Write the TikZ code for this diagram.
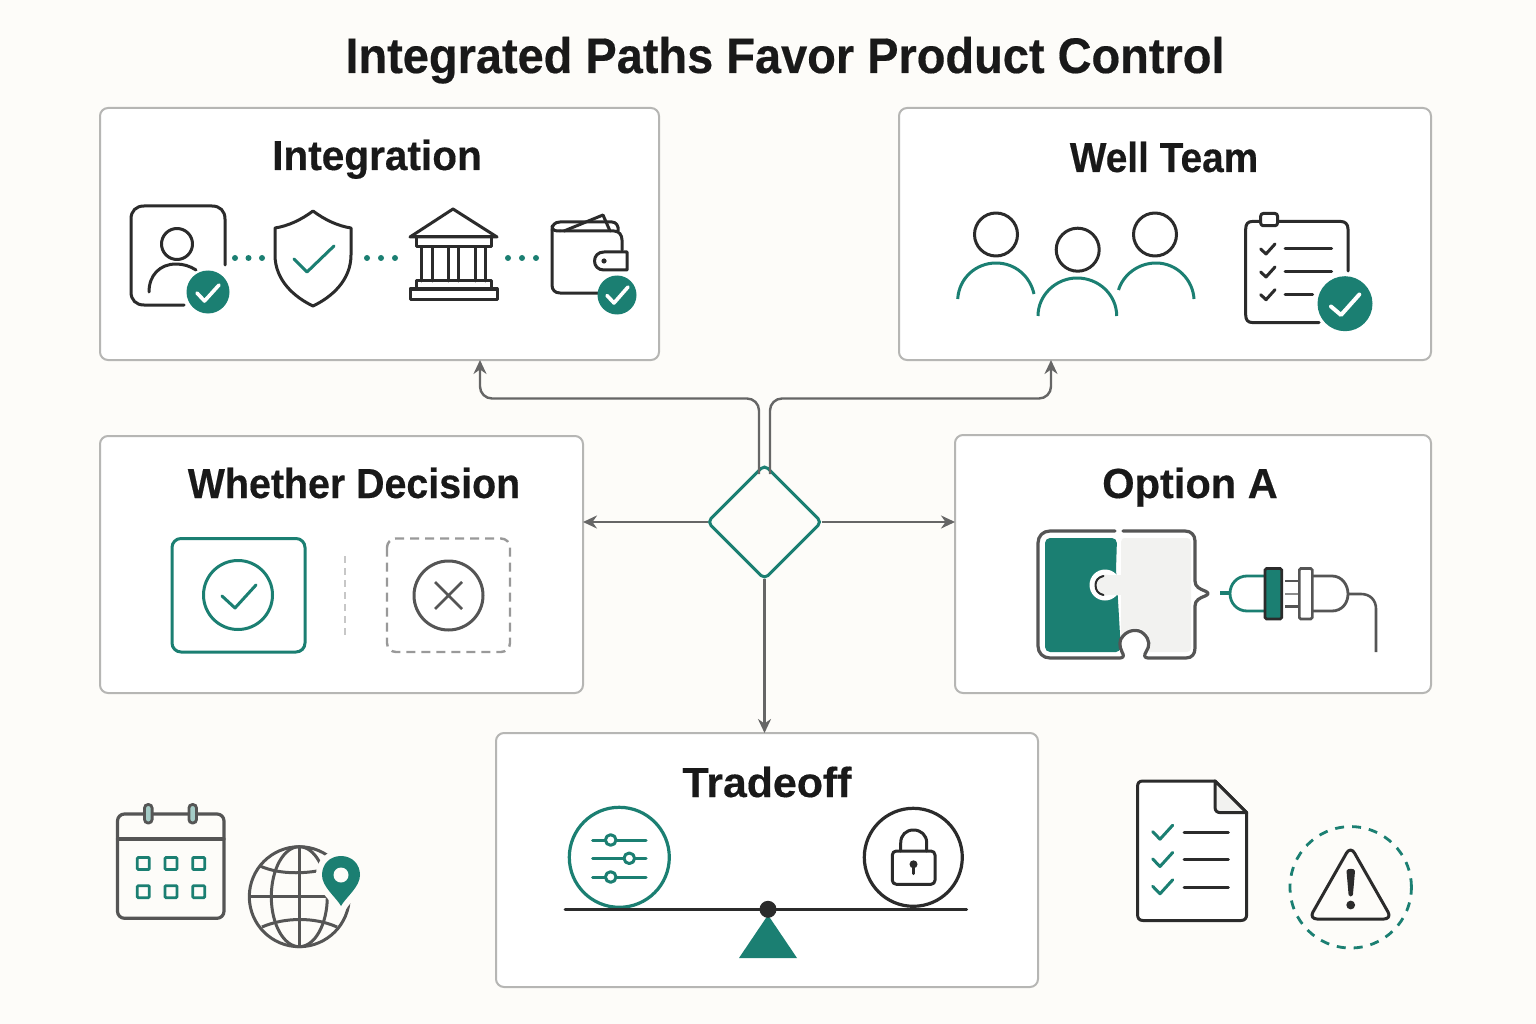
\documentclass[tikz,border=0pt]{standalone}
\usepackage{fontspec}
\usepackage{graphicx}
\setmainfont{Liberation Sans}
\newfontfamily\headfont{Liberation Sans}[BoldFeatures={FakeBold=0.35}]
\usetikzlibrary{arrows.meta,shapes.geometric}
\definecolor{pagebg}{HTML}{FDFCF9}
\definecolor{brandteal}{HTML}{1B7F72}
\definecolor{ink}{HTML}{2B2B2B}
\definecolor{midgray}{HTML}{555555}
\definecolor{conngray}{HTML}{666666}
\definecolor{edgegray}{HTML}{B6B6B4}
\definecolor{softgray}{HTML}{F2F2F0}
\tikzset{
  panel/.style={draw=edgegray,line width=2pt,fill=white,rounded corners=8pt,inner sep=0pt,outer sep=0pt},
  paneltitle/.style={anchor=base,inner sep=0pt,text=black!90,font=\headfont\bfseries\fontsize{42pt}{46pt}\selectfont},
  conn/.style={draw=conngray,line width=2.4pt,-{Stealth[length=14pt,width=13pt]},rounded corners=12pt},
  inkline/.style={draw=ink,line width=3pt,line cap=round,line join=round},
  grayline/.style={draw=midgray,line width=3.2pt,line cap=round,line join=round},
  tealline/.style={draw=brandteal,line width=3pt,line cap=round,line join=round},
  whitecheck/.style={draw=white,line width=3.6pt,line cap=round,line join=round},
}
\begin{document}
\begin{tikzpicture}[x=1pt,y=-1pt]
\fill[pagebg] (0,0) rectangle (1536,1024);
\useasboundingbox (0,0) rectangle (1536,1024);

% title
\node[anchor=base,inner sep=0pt,text=black!90,font=\headfont\bfseries\fontsize{50pt}{54pt}\selectfont] (title) at (785,73) {\scalebox{.939}[1]{Integrated Paths Favor Product Control}};

% panels
\node[panel,minimum width=559pt,minimum height=252pt] (intg) at (379.5,234) {};
\node[panel,minimum width=532pt,minimum height=252pt] (well) at (1165,234) {};
\node[panel,minimum width=483pt,minimum height=257pt] (whet) at (341.5,564.5) {};
\node[panel,minimum width=476pt,minimum height=258pt] (opta) at (1193,564) {};
\node[panel,minimum width=542pt,minimum height=254pt] (trade) at (767,860) {};

\node[paneltitle] (tintg) at (377,170) {\scalebox{.966}[1]{Integration}};
\node[paneltitle] (twell) at (1164,172) {\scalebox{.924}[1]{Well Team}};
\node[paneltitle] (twhet) at (354,498) {\scalebox{.937}[1]{Whether Decision}};
\node[paneltitle] (topta) at (1190,498) {\scalebox{.99}[1]{Option A}};
\node[paneltitle] (ttrade) at (767,797) {\scalebox{1.02}[1]{Tradeoff}};

% decision diamond and connectors
\node[diamond,aspect=1,draw=brandteal,line width=3pt,rounded corners=5pt,minimum width=114pt,minimum height=114pt,inner sep=0pt,outer sep=0pt] (dec) at (764.5,522) {};
\coordinate (busy) at (764.5,398.5);
\coordinate (ji) at (480,360);
\coordinate (jw) at (1051,360);
\draw[conn] ([shift={(-5.5pt,-9pt)}]dec.north) -- ([xshift=-5.5pt]dec.north |- busy) -- (ji |- busy) -- (ji);
\draw[conn] ([shift={(5.5pt,-9pt)}]dec.north) -- ([xshift=5.5pt]dec.north |- busy) -- (jw |- busy) -- (jw);
\draw[conn] (dec.west) -- (dec.west -| whet.east);
\draw[conn] (dec.east) -- (dec.east -| opta.west);
\draw[conn] (dec.south) -- (dec.south |- trade.north);

% ---- Integration icons
\draw[inkline] (225,265) -- (225,219) .. controls (225,211) and (220,206) .. (212,206) -- (144,206) .. controls (136,206) and (131,211) .. (131,219) -- (131,292) .. controls (131,300) and (136,305) .. (144,305) -- (184,305);
\draw[inkline] (177,244) circle[radius=15.5pt];
\draw[inkline] (149,292) .. controls (149,275) and (160,264) .. (176,264) .. controls (183,264) and (190,266) .. (196,270);
\fill[brandteal] (208,292) circle[radius=21.5pt];
\draw[whitecheck] (197,293) -- (204.5,301) -- (219,285);
\foreach \xx in {235,248.5,262,367,381,395,508,522,536}{\fill[brandteal] (\xx,258) circle[radius=3pt];}
% shield
\draw[inkline] (313,211) .. controls (325,220) and (338,226) .. (351,228) -- (351,255) .. controls (351,280) and (332,297) .. (313,306) .. controls (294,297) and (275,280) .. (275,255) -- (275,228) .. controls (288,226) and (301,220) .. (313,211) -- cycle;
\draw[tealline] (294,259) -- (307,272) -- (334,246);
% bank
\draw[inkline] (453,209) -- (497,237) -- (410,237) -- cycle;
\draw[inkline] (416,237) rectangle (491,247);
\foreach \xx in {421,432,448,458,475,485}{\draw[inkline] (\xx,247) -- (\xx,281);}
\draw[inkline] (416,281) rectangle (491,289);
\draw[inkline] (410,289) rectangle (497,299);
% wallet
\draw[inkline] (552,230) .. controls (552,225) and (555,222) .. (560,222) -- (612,222) .. controls (616,222) and (619,226) .. (618,231);
\draw[inkline] (564,231) -- (603,215) -- (610,231);
\draw[inkline] (560,231) -- (614,231) .. controls (619,231) and (622,235) .. (622,240) -- (622,250);
\draw[inkline] (552,230) -- (552,285) .. controls (552,290) and (555,293) .. (560,293) -- (600,293);
\draw[inkline] (560,231) .. controls (556,231) and (552,231) .. (552,226);
\draw[inkline,fill=white] (627,252) -- (604,252) .. controls (598,252) and (594.5,256) .. (594.5,261) .. controls (594.5,266) and (598,270) .. (604,270) -- (627,270) -- cycle;
\fill[ink] (604,261) circle[radius=2.6pt];
\fill[brandteal] (617,295) circle[radius=19.5pt];
\draw[whitecheck] (607,295.5) -- (614,303) -- (628,287);

% ---- Well Team icons
\draw[inkline] (996,234.5) circle[radius=21.5pt];
\draw[inkline] (1077.7,249.7) circle[radius=21.5pt];
\draw[inkline] (1155,234.5) circle[radius=21.5pt];
\draw[tealline,line cap=butt] (957.7,299) .. controls (959,278) and (976,263) .. (996,263) .. controls (1015,263) and (1030,276) .. (1034,294);
\draw[tealline,line cap=butt] (1038,316) .. controls (1038,295) and (1056,278) .. (1077,278) .. controls (1099,278) and (1116.7,295) .. (1116.7,316);
\draw[tealline,line cap=butt] (1118.5,290) .. controls (1123,275) and (1138,263) .. (1156,263) .. controls (1177,263) and (1193,280) .. (1194,299);
% clipboard
\draw[inkline] (1348,271) -- (1348,229) .. controls (1348,224) and (1345,221.5) .. (1341,221.5) -- (1252,221.5) .. controls (1248,221.5) and (1245.7,224) .. (1245.7,229) -- (1245.7,315) .. controls (1245.7,320) and (1248,322.5) .. (1252,322.5) -- (1319,322.5);
\draw[inkline,fill=white,rounded corners=2.5pt] (1260.7,213.5) rectangle (1277.5,225.7);
\foreach \yy in {249,272,294.7}{\draw[inkline] (1260.7,\yy) -- (1266,\yy+5) -- (1275,\yy-5);}
\draw[inkline] (1285,249) -- (1331.7,249);
\draw[inkline] (1285,272) -- (1331.7,272);
\draw[inkline] (1285,294.7) -- (1312.7,294.7);
\fill[brandteal] (1345,303.7) circle[radius=27.5pt];
\draw[whitecheck,line width=4pt] (1331,306.5) -- (1341,315) -- (1359.3,294.5);

% ---- Whether Decision icons
\draw[tealline,rounded corners=9pt] (172,538.5) rectangle (305,652);
\draw[tealline] (238,595) circle[radius=34.5pt];
\draw[tealline] (222,596) -- (235,608) -- (256,585);
\draw[draw=black!22,line width=2pt,dash pattern=on 7pt off 5pt] (345,556) -- (345,636);
\draw[draw=black!40,line width=2.4pt,dash pattern=on 9pt off 6pt,rounded corners=9pt] (387,538.5) rectangle (510,652);
\draw[draw=midgray,line width=3pt] (448.5,595.5) circle[radius=34.5pt];
\draw[draw=midgray,line width=2.8pt] (435,582) -- (462,609) (462,582) -- (435,609);

% ---- Option A icons
\fill[brandteal,rounded corners=5pt] (1045,538) -- (1117,538) -- (1116,570) -- (1118,600) -- (1121,652) -- (1045,652) -- cycle;
\fill[softgray,rounded corners=4pt] (1122,538) -- (1191,538) -- (1191,652) -- (1121,652) -- (1121,538) -- cycle;
\fill[white] (1135,643) circle[radius=15pt];
\fill[white] (1119,650) rectangle (1149,660);
\fill[white] (1105,585) circle[radius=15.5pt];
\fill[softgray] (1106,585) circle[radius=10.5pt];
\fill[softgray] (1106,575) rectangle (1124,595);
\draw[draw=ink,line width=2pt,line cap=round] (1103.5,576) .. controls (1098,577) and (1095.5,581) .. (1095.5,585) .. controls (1095.5,590) and (1098,594) .. (1103.5,595);
\draw[grayline] (1115,531) -- (1050,531) .. controls (1043,531) and (1038,536) .. (1038,543) -- (1038,646) .. controls (1038,653) and (1043,658) .. (1050,658) -- (1120,658) .. controls (1124,658) and (1124,655) .. (1122,652) .. controls (1119,646) and (1119,640) .. (1123,636) .. controls (1128,630) and (1138,628) .. (1144,634) .. controls (1150,640) and (1150,646) .. (1146,652) .. controls (1144,655) and (1144,658) .. (1148,658) -- (1186,658) .. controls (1192,658) and (1195,654) .. (1195,648) -- (1195,606) .. controls (1195,600) and (1200,598) .. (1205,596) .. controls (1209,594.5) and (1209,592.5) .. (1205,591) .. controls (1200,589) and (1195,587) .. (1195,581) -- (1195,541) .. controls (1195,535) and (1191,531) .. (1185,531) -- (1123,531);
% plug
\draw[draw=brandteal,line width=4.5pt] (1220,593) -- (1231,593);
\draw[draw=brandteal,line width=2.8pt] (1265,576) -- (1247,576) .. controls (1237,576) and (1230,584) .. (1230,593.5) .. controls (1230,603) and (1237,611) .. (1247,611) -- (1265,611);
\draw[draw=ink,fill=brandteal,line width=2.6pt,rounded corners=1.5pt] (1265,568.5) rectangle (1281.7,619);
\draw[draw=midgray,line width=2.8pt] (1285,581) -- (1299.5,581);
\draw[draw=black!45,line width=2.8pt] (1285,594) -- (1299.5,594);
\draw[draw=midgray,line width=2.8pt] (1285,606.7) -- (1299.5,606.7);
\draw[draw=midgray,line width=2.6pt,rounded corners=1.5pt,fill=white] (1299.3,568.5) rectangle (1312.3,619);
\draw[draw=midgray,line width=2.8pt] (1312.3,576) -- (1332,576) .. controls (1342,576) and (1348,585) .. (1348,594) .. controls (1348,603) and (1342,611) .. (1332,611) -- (1312.3,611);
\draw[draw=midgray,line width=2.6pt] (1348,594) -- (1361,594) .. controls (1370,594) and (1376,600) .. (1376,609) -- (1376,652);

% ---- Tradeoff icons
\draw[draw=brandteal,line width=3.2pt] (619.3,857.3) circle[radius=50pt];
\foreach \yy/\kk in {840/610.7,858.3/629.3,877/610.7}{
  \draw[tealline] (592.7,\yy) -- (646,\yy);
  \draw[tealline,fill=white] (\kk,\yy) circle[radius=5.3pt];
}
\draw[draw=ink,line width=3.2pt] (913.3,857.3) circle[radius=49pt];
\draw[inkline] (900.7,851) -- (900.7,843) .. controls (900.7,835) and (906,830) .. (913.5,830) .. controls (921,830) and (926.7,835) .. (926.7,843) -- (926.7,851);
\draw[inkline,rounded corners=4pt] (892.3,851) rectangle (935,884.3);
\fill[ink] (913.5,864.3) circle[radius=4pt];
\draw[draw=ink,line width=3.2pt,line cap=round] (913.5,865) -- (913.5,873.5);
\draw[draw=ink,line width=3pt,line cap=round] (565,909.3) -- (966.7,909.3);
\fill[brandteal] (768,915) -- (797,958) -- (739,958) -- cycle;
\fill[ink] (768,909.3) circle[radius=8.5pt];

% ---- Calendar
\draw[grayline,rounded corners=7pt] (117.5,814) rectangle (224,918.3);
\draw[grayline] (117.5,839) -- (224,839);
\foreach \xx in {148.3,192.7}{\draw[draw=midgray,fill=brandteal!40,line width=2.8pt,rounded corners=3.5pt] (\xx-3.8,804.5) rectangle (\xx+3.8,823);}
\foreach \yy in {863.5,891.7}{\foreach \xx in {143.3,171,198.7}{\draw[draw=brandteal,line width=2.8pt,rounded corners=1pt] (\xx-6,\yy-6) rectangle (\xx+6,\yy+6);}}
% globe
\draw[draw=midgray,line width=3pt] (299.3,896.7) circle[radius=50pt];
\draw[draw=midgray,line width=3pt] (299.3,896.7) ellipse[x radius=28pt,y radius=50pt];
\draw[draw=midgray,line width=3pt] (299.3,846.7) -- (299.3,946.7);
\draw[draw=midgray,line width=3pt] (249.3,896.7) -- (349.3,896.7);
\draw[draw=midgray,line width=3pt] (260,866) .. controls (280,875) and (310,875) .. (338,866);
\draw[draw=midgray,line width=3pt] (262,927) .. controls (285,917) and (315,917) .. (337,927);
\path[draw=pagebg,line width=12pt,fill=pagebg,line join=round] (341,906) .. controls (336,897) and (322,887) .. (322,875) .. controls (322,864) and (330,856) .. (341,856) .. controls (352,856) and (360,864) .. (360,875) .. controls (360,887) and (346,897) .. (341,906) -- cycle;
\fill[brandteal] (341,906) .. controls (336,897) and (322,887) .. (322,875) .. controls (322,864) and (330,856) .. (341,856) .. controls (352,856) and (360,864) .. (360,875) .. controls (360,887) and (346,897) .. (341,906) -- cycle;
\fill[pagebg] (341,875) circle[radius=7.5pt];

% ---- Document
\draw[inkline,fill=white] (1215,781) -- (1143,781) .. controls (1139,781) and (1137.5,783) .. (1137.5,787) -- (1137.5,914) .. controls (1137.5,918) and (1139,920.5) .. (1143,920.5) -- (1241,920.5) .. controls (1245,920.5) and (1246.7,918) .. (1246.7,914) -- (1246.7,812.7) -- cycle;
\draw[inkline,fill=softgray] (1215,781) -- (1215,807) .. controls (1215,811) and (1217,812.7) .. (1221,812.7) -- (1246.7,812.7) -- cycle;
\foreach \yy in {831.7,859,886.3}{\draw[tealline] (1152.7,\yy) -- (1160,\yy+7.5) -- (1172.7,\yy-6.5);}
\foreach \yy in {832.3,859.7,887}{\draw[inkline] (1184,\yy) -- (1228.3,\yy);}
% warning
\draw[draw=brandteal,line width=2.8pt,dash pattern=on 9pt off 8pt] (1350.7,887.3) circle[radius=60.7pt];
\draw[inkline,rounded corners=8pt] (1350.5,846) -- (1392,919) -- (1309,919) -- cycle;
\fill[ink] (1346.5,871) .. controls (1346.5,868) and (1355,868) .. (1355,871) -- (1352.9,895) .. controls (1352.5,897) and (1349,897) .. (1348.6,895) -- cycle;
\fill[ink] (1350.7,905) circle[radius=4.4pt];
\end{tikzpicture}
\end{document}
